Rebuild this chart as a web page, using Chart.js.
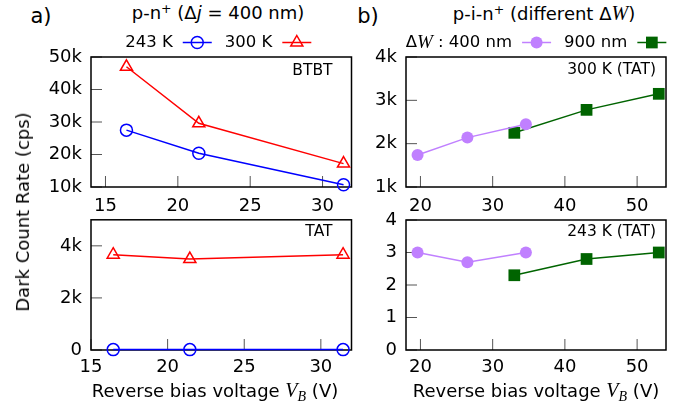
<!DOCTYPE html>
<html>
<head>
<meta charset="utf-8">
<script src="https://cdn.jsdelivr.net/npm/chart.js@4.4.0/dist/chart.umd.min.js"></script>
<style>
    body { margin: 0; background: #fff; }
    #fig { position: relative; width: 683px; height: 409px; font-family: "DejaVu Sans", sans-serif; color: #000; overflow: hidden; }
    #fig canvas { position: absolute; }
    .t { position: absolute; white-space: nowrap; transform: translate(-50%, -50%); line-height: 1; }
    .ser { font-family: "Liberation Serif", serif; font-style: italic; }
    sup { font-size: 0.7em; vertical-align: 0; position: relative; top: -0.45em; line-height: 0; }
    sub { font-size: 0.7em; vertical-align: 0; position: relative; top: 0.3em; line-height: 0; }
</style>
</head>
<body>
<div id="fig">
    <canvas id="aTop" width="360" height="185" style="left:0;top:30px"></canvas>
    <canvas id="aBot" width="360" height="175" style="left:0;top:200px"></canvas>
    <canvas id="bTop" width="323" height="185" style="left:360px;top:30px"></canvas>
    <canvas id="bBot" width="323" height="175" style="left:360px;top:200px"></canvas>

    <div class="t" style="left:41px;top:16px;font-size:21px">a)</div>
    <div class="t" style="left:368px;top:16px;font-size:21px">b)</div>
    <div class="t" style="left:218px;top:13px;font-size:18px">p-n<sup>+</sup> (Δ<i>j</i> = 400 nm)</div>
    <div class="t" style="left:544px;top:13px;font-size:18px">p-i-n<sup>+</sup> (different Δ<span class="ser" style="font-size:20px">W</span>)</div>
    <div class="t" style="left:23px;top:212px;font-size:18px;transform:translate(-50%,-50%) rotate(-90deg)">Dark Count Rate (cps)</div>
    <div class="t" style="left:215px;top:390px;font-size:18px">Reverse bias voltage <span class="ser" style="font-size:20px">V<sub>B</sub></span> (V)</div>
    <div class="t" style="left:536px;top:390px;font-size:18px">Reverse bias voltage <span class="ser" style="font-size:20px">V<sub>B</sub></span> (V)</div>
</div>

<script>
// a) p-n+ : bias voltages and dark count rates
const biasA = [16.45, 21.45, 31.45];
const btbt243 = [27500, 20400, 10700];
const btbt300 = [47000, 29600, 17200];
const tat243 = [15, 15, 15];
const tat300 = [3660, 3490, 3660];
const xTicksA = [15, 20, 25, 30];
const yTicksATop = [10000, 20000, 30000, 40000, 50000];
const yTicksABot = [0, 2000, 4000];

// b) p-i-n+ : two intrinsic widths
const bias400 = [19.6, 26.5, 34.6];
const bias900 = [33, 43, 53];
const tat300w400 = [1740, 2140, 2450];
const tat300w900 = [2250, 2780, 3150];
const tat243w400 = [3.0, 2.7, 3.0];
const tat243w900 = [2.3, 2.8, 3.0];
const xTicksB = [20, 30, 40, 50];
const yTicksBTop = [1000, 2000, 3000, 4000];
const yTicksBBot = [0, 1, 2, 3, 4];

const FONT = 'DejaVu Sans';
const pts = (xs, ys) => xs.map((x, i) => ({x: x, y: ys[i]}));
const kLabel = v => v === 0 ? '0' : (v / 1000) + 'k';

// styles per series
const blueCircle = {borderColor: '#0000ff', pointBorderColor: '#0000ff', pointBackgroundColor: 'rgba(0,0,0,0)', pointStyle: 'circle', pointRadius: 6, pointBorderWidth: 1.5};
const redTriangle = {borderColor: '#ff0000', pointBorderColor: '#ff0000', pointBackgroundColor: 'rgba(0,0,0,0)', pointStyle: 'triangle', pointRadius: 7, pointBorderWidth: 1.5};
const purpleDot = {borderColor: '#c080ff', pointBorderColor: '#c080ff', pointBackgroundColor: '#c080ff', pointStyle: 'circle', pointRadius: 6, pointBorderWidth: 0};
const greenSquare = {borderColor: '#006400', pointBorderColor: '#006400', pointBackgroundColor: '#006400', pointStyle: 'rect', pointRadius: 8.3, pointBorderWidth: 0};

function series(style, xs, ys) {
    return Object.assign({data: pts(xs, ys), borderWidth: 1.5, tension: 0, clip: false, fill: false}, style);
}

// box around the plot and gnuplot-like inward ticks
const framePlugin = {
    id: 'frame',
    beforeDatasetsDraw(chart) {
        const {ctx, chartArea: a, scales} = chart;
        ctx.save();
        ctx.strokeStyle = '#555';
        ctx.lineWidth = 1;
        ctx.beginPath();
        scales.x.ticks.forEach(t => {
            const px = scales.x.getPixelForValue(t.value);
            ctx.moveTo(px, a.bottom);
            ctx.lineTo(px, a.bottom - 11);
        });
        scales.y.ticks.forEach(t => {
            const py = scales.y.getPixelForValue(t.value);
            ctx.moveTo(a.left, py);
            ctx.lineTo(a.left + 11, py);
        });
        ctx.stroke();
        ctx.strokeStyle = '#000';
        ctx.lineWidth = 1.5;
        ctx.strokeRect(a.left, a.top, a.right - a.left, a.bottom - a.top);
        ctx.restore();
    }
};

// legend row above the plot: text first, then line sample with marker
const keyPlugin = {
    id: 'keyRow',
    afterDraw(chart, args, opts) {
        if (!opts.items) return;
        const {ctx, chartArea: a} = chart;
        const base = `16.5px "${FONT}"`;
        const sample = 29, gapText = 10, gapItem = 13;
        ctx.save();
        const widths = opts.items.map(it => it.parts.reduce((w, p) => {
            ctx.font = p.font || base;
            return w + ctx.measureText(p.t).width;
        }, 0));
        const total = widths.reduce((s, w) => s + w + gapText + sample, 0) + gapItem * (opts.items.length - 1);
        let x = (a.left + a.right) / 2 - total / 2 + (opts.dx || 0);
        const y = opts.y;
        ctx.textBaseline = 'middle';
        ctx.textAlign = 'left';
        ctx.fillStyle = '#000';
        opts.items.forEach((it, i) => {
            it.parts.forEach(p => {
                ctx.font = p.font || base;
                ctx.fillText(p.t, x, y + (p.dy || 0));
                x += ctx.measureText(p.t).width;
            });
            x += gapText;
            const ds = chart.data.datasets[it.ds];
            ctx.strokeStyle = ds.borderColor;
            ctx.lineWidth = ds.borderWidth;
            ctx.beginPath();
            ctx.moveTo(x, y);
            ctx.lineTo(x + sample, y);
            ctx.stroke();
            ctx.fillStyle = ds.pointBackgroundColor;
            ctx.strokeStyle = ds.pointBorderColor;
            Chart.helpers.drawPoint(ctx, {pointStyle: ds.pointStyle, radius: ds.pointRadius, borderWidth: ds.pointBorderWidth, rotation: 0}, x + sample / 2, y);
            ctx.fillStyle = '#000';
            x += sample + gapItem;
        });
        ctx.restore();
    }
};

// label in the top right corner of each panel
const cornerPlugin = {
    id: 'corner',
    afterDraw(chart, args, opts) {
        if (!opts.text) return;
        const {ctx, chartArea: a} = chart;
        ctx.save();
        ctx.font = `15.5px "${FONT}"`;
        ctx.fillStyle = '#000';
        ctx.textAlign = 'right';
        ctx.textBaseline = 'middle';
        ctx.fillText(opts.text, a.right - opts.inset, a.top + opts.dy);
        ctx.restore();
    }
};

function makePanel(id, o) {
    const tickFont = {family: FONT, size: 18};
    return new Chart(document.getElementById(id), {
        type: 'line',
        data: {datasets: o.datasets},
        options: {
            responsive: false,
            animation: false,
            events: [],
            layout: {padding: {top: o.padTop, right: o.padRight, left: 0, bottom: 0}},
            plugins: {
                legend: {display: false},
                tooltip: {enabled: false},
                keyRow: o.key || {},
                corner: o.corner
            },
            scales: {
                x: {
                    type: 'linear',
                    min: o.xMin,
                    max: o.xMax,
                    grid: {display: false, drawTicks: false},
                    border: {display: false},
                    afterBuildTicks: s => { s.ticks = o.xTicks.map(v => ({value: v})); },
                    afterFit: s => { s.height = o.xHeight; },
                    ticks: {font: tickFont, color: '#000', padding: o.xPad, maxRotation: 0, autoSkip: false}
                },
                y: {
                    type: 'linear',
                    min: o.yMin,
                    max: o.yMax,
                    grid: {display: false, drawTicks: false},
                    border: {display: false},
                    afterBuildTicks: s => { s.ticks = o.yTicks.map(v => ({value: v})); },
                    afterFit: s => { s.width = o.yWidth; },
                    ticks: {font: tickFont, color: '#000', padding: 9, autoSkip: false, callback: o.yFmt}
                }
            }
        },
        plugins: [framePlugin, keyPlugin, cornerPlugin]
    });
}

makePanel('aTop', {
    datasets: [series(blueCircle, biasA, btbt243), series(redTriangle, biasA, btbt300)],
    xMin: 14, xMax: 32, xTicks: xTicksA,
    yMin: 10000, yMax: 50000, yTicks: yTicksATop, yFmt: kLabel,
    padTop: 27, padRight: 8, yWidth: 91, xHeight: 28, xPad: 9,
    key: {y: 12.5, dx: -3, items: [{parts: [{t: '243 K'}], ds: 0}, {parts: [{t: '300 K'}], ds: 1}]},
    corner: {text: 'BTBT', inset: 19, dy: 13.5}
});

makePanel('aBot', {
    datasets: [series(blueCircle, biasA, tat243), series(redTriangle, biasA, tat300)],
    xMin: 15, xMax: 32, xTicks: xTicksA,
    yMin: 0, yMax: 5000, yTicks: yTicksABot, yFmt: kLabel,
    padTop: 19.5, padRight: 8, yWidth: 91, xHeight: 25, xPad: 7,
    corner: {text: 'TAT', inset: 19, dy: 12}
});

makePanel('bTop', {
    datasets: [series(purpleDot, bias400, tat300w400), series(greenSquare, bias900, tat300w900)],
    xMin: 18, xMax: 54, xTicks: xTicksB,
    yMin: 1000, yMax: 4000, yTicks: yTicksBTop, yFmt: kLabel,
    padTop: 27, padRight: 17, yWidth: 46, xHeight: 28, xPad: 9,
    key: {y: 12.5, items: [
        {parts: [{t: 'Δ'}, {t: 'W', font: 'italic 19px "Liberation Serif"'}, {t: ' : 400 nm'}], ds: 0},
        {parts: [{t: '900 nm'}], ds: 1}
    ]},
    corner: {text: '300 K (TAT)', inset: 10, dy: 13}
});

makePanel('bBot', {
    datasets: [series(purpleDot, bias400, tat243w400), series(greenSquare, bias900, tat243w900)],
    xMin: 18, xMax: 54, xTicks: xTicksB,
    yMin: 0, yMax: 4, yTicks: yTicksBBot, yFmt: v => String(v),
    padTop: 20, padRight: 17, yWidth: 46, xHeight: 25, xPad: 7,
    corner: {text: '243 K (TAT)', inset: 10, dy: 12}
});
</script>
</body>
</html>
